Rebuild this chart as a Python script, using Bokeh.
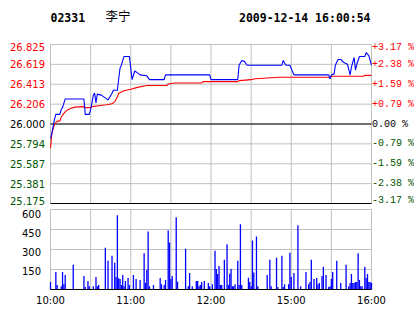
from bokeh.plotting import figure
from bokeh.models import ColumnDataSource, LabelSet, Label, Range1d
from bokeh.core.properties import value
from bokeh.embed import file_html
from bokeh.resources import INLINE

# ---------------- data ----------------
code = "02331"
name = "李宁"
stamp = "2009-12-14 16:00:54"
prev_close = 26.0

# minutes since 10:00 (HK session 10:00-12:30, 14:30-16:00 -> 240 trading minutes)
price_t = [0, 1, 3, 4, 7, 8, 9, 11, 25, 26, 29, 30, 31, 32, 33, 34, 35, 38, 43, 46, 47, 50,
           51, 52, 53, 54, 55, 59, 61, 63, 65, 67, 72, 74, 85, 86, 119, 120, 140, 141, 143,
           145, 147, 173, 174, 176, 179, 182, 208, 209, 210, 212, 213, 215, 217, 219, 222,
           224, 225, 227, 228, 229, 231, 235, 236, 238, 240]
price_v = [25.85, 25.90, 26.05, 26.10, 26.10, 26.15, 26.17, 26.26, 26.26, 26.10, 26.10, 26.15,
           26.22, 26.30, 26.32, 26.22, 26.31, 26.30, 26.25, 26.32, 26.35, 26.35,
           26.47, 26.58, 26.61, 26.66, 26.70, 26.70, 26.46, 26.55, 26.53, 26.51, 26.50, 26.46,
           26.46, 26.51, 26.51, 26.46, 26.46, 26.61, 26.66,
           26.65, 26.61, 26.61, 26.66, 26.61, 26.61, 26.51, 26.51, 26.47, 26.51, 26.52, 26.61,
           26.67, 26.67, 26.64, 26.62,
           26.51, 26.59, 26.69, 26.56, 26.62, 26.70, 26.70, 26.74, 26.71, 26.61]

avg_t = [0, 1, 3, 5, 7, 8, 10, 12, 15, 18, 25, 26, 30, 31, 36, 42, 46, 48, 50, 51, 55, 60, 65,
         72, 87, 88, 93, 113, 114, 140, 141, 150, 153, 171, 209, 210, 234, 235, 240]
avg_v = [25.75, 25.90, 26.00, 26.03, 26.03, 26.07, 26.11, 26.14, 26.16, 26.175, 26.18, 26.17,
         26.17, 26.18, 26.19, 26.20, 26.21, 26.23, 26.28, 26.32, 26.345, 26.36, 26.38,
         26.40, 26.40, 26.415, 26.425, 26.425, 26.44, 26.44, 26.45, 26.46, 26.47, 26.485,
         26.485, 26.495, 26.495, 26.505, 26.505]

vol_t = [0, 4, 5, 8, 9, 10, 11, 17, 25, 26, 28, 29, 32, 34, 35, 36, 41, 43, 46, 48, 49, 50, 51,
         52, 53, 54, 55, 56, 58, 59, 62, 64, 67, 70, 71, 72, 73, 74, 77, 82, 83, 85, 86, 88, 89,
         90, 91, 94, 95, 101, 103, 104, 106, 109, 110, 111, 112, 113, 115, 118, 119, 121, 123,
         124, 125, 126, 127, 128, 130, 132, 133, 134, 135, 136, 137, 138, 140, 141, 142, 143,
         148, 149, 150, 151, 152, 154, 155, 162, 164, 165, 169, 170, 173, 174, 175, 178, 179,
         180, 182, 185, 187, 191, 193, 194, 195, 197, 199, 200, 201, 203, 204, 206, 208, 209,
         210, 211, 214, 217, 221, 223, 224, 225, 226, 227, 228, 229, 230, 231, 232, 233, 235,
         236, 237, 238, 239, 240]
vol_v = [56, 132, 33, 25, 132, 40, 109, 185, 101, 18, 63, 25, 25, 94, 25, 33, 314, 215, 253, 200,
         94, 557, 84, 78, 33, 109, 25, 63, 86, 33, 109, 78, 71, 271, 51, 147, 435, 25, 33, 86,
         40, 33, 71, 443, 352, 78, 101, 542, 58, 306, 25, 124, 25, 63, 63, 25, 33, 56, 63, 48,
         25, 40, 291, 154, 116, 177, 33, 33, 223, 339, 33, 119, 154, 25, 25, 40, 215, 33, 489,
         33, 89, 56, 25, 367, 127, 397, 25, 109, 223, 25, 238, 18, 253, 18, 40, 40, 276, 94,
         124, 481, 25, 132, 40, 56, 223, 78, 86, 40, 48, 101, 170, 109, 18, 25, 78, 132, 215,
         48, 185, 25, 48, 116, 48, 48, 56, 56, 271, 71, 25, 25, 170, 86, 116, 56, 56, 48]

price_labels = ["26.825", "26.619", "26.413", "26.206", "26.000", "25.794", "25.587", "25.381", "25.175"]
pct_labels = ["+3.17 %", "+2.38 %", "+1.59 %", "+0.79 %", " 0.00 %", "-0.79 %", "-1.59 %", "-2.38 %", "-3.17 %"]
vol_ticks = [150, 300, 450, 600]
time_ticks = [0, 60, 120, 180, 240]
time_labels = ["10:00", "11:00", "12:00", "15:00", "16:00"]
grid_minutes = [0, 30, 60, 90, 120, 150, 180, 210, 240]

RED = "#ff0000"
GREEN = "#005500"
BLUE = "#0000ff"
GRID = "#c0c0c0"

levels = [float(s) for s in price_labels]
level_colors = [RED if v > prev_close else ("black" if v == prev_close else GREEN) for v in levels]
t0, t1 = 0, 240
ptop, pbot = levels[0], levels[-1]
vtop = vol_ticks[-1]

# ---- page layout (pixels): 414x314; plot area x 50..371; price y 44..203; volume y 209..289
W, H = 414, 314
L, R = 50, 43
P_TOP, P_BOT = 44, 203
V_TOP, V_BOT = 209, 289
PX = (W - L - R) / (t1 - t0)
PY = (P_BOT - P_TOP) / (ptop - pbot)
VY = (V_BOT - V_TOP) / vtop

p = figure(width=W, height=H,
           x_range=Range1d(t0 - L / PX, t1 + R / PX),
           y_range=Range1d(pbot - (H - P_BOT) / PY, ptop + P_TOP / PY),
           output_backend="svg", toolbar_location=None,
           x_axis_location=None, y_axis_location=None,
           min_border=0, background_fill_color="white", border_fill_color="white")
p.extra_y_ranges = {"vol": Range1d(0 - (H - V_BOT) / VY, vtop + V_TOP / VY)}
p.grid.visible = False
p.outline_line_color = None

# ---------------- price panel ----------------
n = len(grid_minutes)
p.segment(x0=grid_minutes, y0=[pbot] * n, x1=grid_minutes, y1=[ptop] * n, line_color=GRID, line_width=1)
p.segment(x0=[t0] * len(levels), y0=levels, x1=[t1] * len(levels), y1=levels, line_color=GRID, line_width=1)
p.segment(x0=[t0, t0], y0=[prev_close, pbot], x1=[t1, t1], y1=[prev_close, pbot],
          line_color="black", line_width=1)

p.line(avg_t, avg_v, line_color=RED, line_width=1.1)
p.line(price_t, price_v, line_color=BLUE, line_width=1.1)

# edge labels are nudged inward so they stay inside the chart box
dy = [-2.5] + [0] * (len(levels) - 2) + [3]
lsrc = ColumnDataSource(dict(x=[t0] * len(levels), y=levels, text=price_labels, color=level_colors, dy=dy))
p.add_layout(LabelSet(x="x", y="y", text="text", source=lsrc, text_color="color", y_offset="dy",
                      text_align="right", text_baseline="middle", x_offset=-5.5,
                      text_font=value("DejaVu Sans"), text_font_size=value("10px")))
rsrc = ColumnDataSource(dict(x=[t1] * len(levels), y=levels, text=pct_labels, color=level_colors, dy=dy))
p.add_layout(LabelSet(x="x", y="y", text="text", source=rsrc, text_color="color", y_offset="dy",
                      text_align="left", text_baseline="middle", x_offset=0.5,
                      text_font=value("Liberation Mono"), text_font_size=value("10px")))

p.add_layout(Label(x=t0, y=ptop, y_offset=27, text=code, text_align="left",
                   text_baseline="middle", text_font="DejaVu Sans Mono", text_font_style="bold",
                   text_font_size="11.5px", text_color="black"))
p.add_layout(Label(x=t0, y=ptop, x_offset=55, y_offset=29, text=name, text_align="left",
                   text_baseline="middle", text_font="Noto Sans CJK SC",
                   text_font_size="12.5px", text_color="black"))
p.add_layout(Label(x=t1, y=ptop, x_offset=-1, y_offset=27, text=stamp, text_align="right",
                   text_baseline="middle", text_font="DejaVu Sans Mono", text_font_style="bold",
                   text_font_size="11.5px", text_color="black"))

# ---------------- volume panel ----------------
p.segment(x0=grid_minutes, y0=[0] * n, x1=grid_minutes, y1=[vtop] * n, line_color=GRID,
          line_width=1, y_range_name="vol")
p.segment(x0=[t0] * len(vol_ticks), y0=vol_ticks, x1=[t1] * len(vol_ticks), y1=vol_ticks,
          line_color=GRID, line_width=1, y_range_name="vol")
p.segment(x0=vol_t, y0=[0] * len(vol_t), x1=vol_t, y1=vol_v, line_color=BLUE, line_width=1.3,
          y_range_name="vol")
p.segment(x0=[t0], y0=[0], x1=[t1], y1=[0], line_color="black", line_width=1, y_range_name="vol")

vdy = [-1, -2, -3, -4]
vsrc = ColumnDataSource(dict(x=[t0] * len(vol_ticks), y=vol_ticks, text=[str(t) for t in vol_ticks], dy=vdy))
p.add_layout(LabelSet(x="x", y="y", text="text", source=vsrc, text_color="black", y_range_name="vol",
                      text_align="right", text_baseline="middle", x_offset=-9.5, y_offset="dy",
                      text_font=value("DejaVu Sans"), text_font_size=value("10px")))
tsrc = ColumnDataSource(dict(x=time_ticks, y=[0] * len(time_ticks), text=time_labels))
p.add_layout(LabelSet(x="x", y="y", text="text", source=tsrc, text_color="black", y_range_name="vol",
                      text_align="center", text_baseline="middle", y_offset=-10.5,
                      text_font=value("DejaVu Sans"), text_font_size=value("10px")))

open("out.html", "w").write(file_html(p, INLINE))
